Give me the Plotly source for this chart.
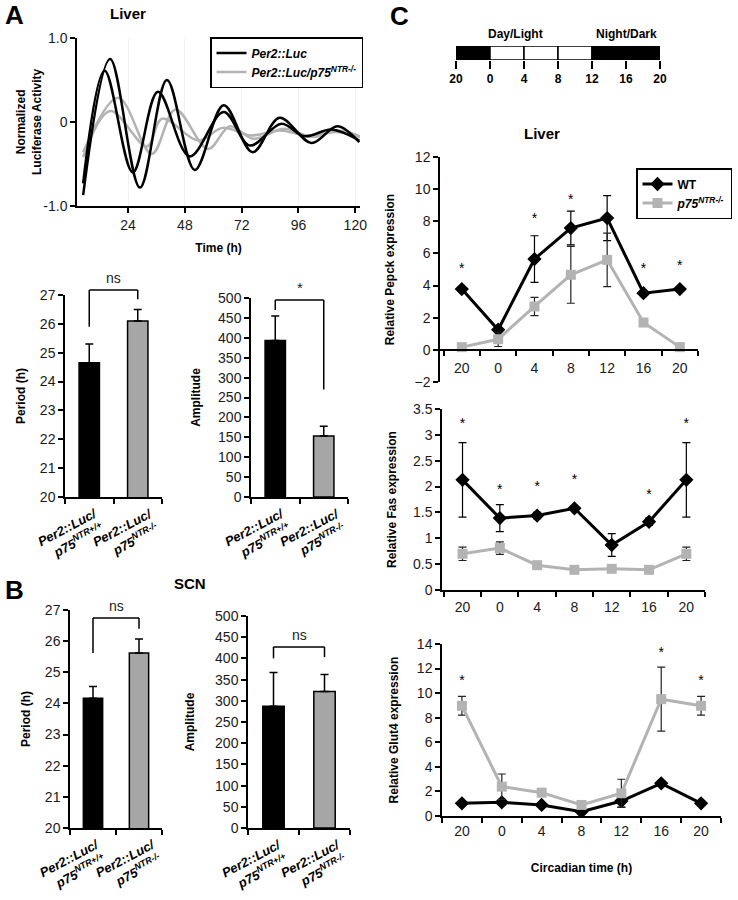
import plotly.graph_objects as go

W, H = 738, 900
FONT = "Arial, Liberation Sans, sans-serif"
BLACK = "#000000"
GREY_LINE = "#b3b3b3"
GREY_BAR = "#a6a6a6"

# ---------------- data ----------------
# A: luciferase traces (peaks / troughs: time h, normalized activity)
luc_wt1_t = [5, 16.4, 29, 40.4, 52.2, 64.4, 76.6, 88, 101.5, 112.4, 121.7]
luc_wt1_v = [-0.87, 0.75, -0.78, 0.5, -0.57, 0.2, -0.36, 0.05, -0.25, -0.05, -0.24]
luc_wt2_t = [5, 14.1, 26, 36.6, 50, 64.4, 75.4, 88.8, 98.5, 110, 121.7]
luc_wt2_v = [-0.73, 0.61, -0.6, 0.36, -0.41, 0.12, -0.28, -0.02, -0.17, -0.09, -0.22]
luc_ko1_t = [5, 19.8, 34, 44, 57.8, 67, 77, 90, 102, 113, 122]
luc_ko1_v = [-0.36, 0.29, -0.38, 0.15, -0.32, -0.05, -0.2, -0.08, -0.18, -0.1, -0.17]
luc_ko2_t = [5, 16.4, 32, 38.4, 53.6, 64, 76, 88, 100, 112, 122]
luc_ko2_v = [-0.42, 0.13, -0.29, 0.04, -0.22, -0.07, -0.16, -0.1, -0.16, -0.12, -0.18]
luc_ticks = [24, 48, 72, 96, 120]

# A / B: period and amplitude bars (wild type, knockout)
bar_labels = ["Per2::Luc/<br>p75<sup>NTR+/+</sup>", "Per2::Luc/<br>p75<sup>NTR-/-</sup>"]
liver_period = [24.65, 26.1]
liver_period_err = [0.65, 0.4]
liver_amp = [393, 153]
liver_amp_err = [62, 25]
scn_period = [24.17, 25.62]
scn_period_err = [0.37, 0.45]
scn_amp = [287, 322]
scn_amp_err = [80, 40]

# significance brackets: top, left leg end, right leg end, label
liver_period_sig = [27.17, 25.9, 26.85, "ns"]
liver_amp_sig = [495, 470, 270, "*"]
scn_period_sig = [26.74, 25.62, 26.4, "ns"]
scn_amp_sig = [427, 400, 403, "ns"]

# C: light / dark schedule
lb_ticks = [-4, 0, 4, 8, 12, 16, 20]
lb_labels = ["20", "0", "4", "8", "12", "16", "20"]
lb_phase = ["dark", "light", "light", "light", "dark", "dark"]

# C: liver expression over circadian time
ct_labels = ["20", "0", "4", "8", "12", "16", "20"]

pepck_wt = [3.78, 1.25, 5.65, 7.58, 8.2, 3.53, 3.78]
pepck_wt_err = [0.1, 0.12, 1.45, 1.05, 1.4, 0.12, 0.1]
pepck_ko = [0.17, 0.66, 2.7, 4.67, 5.6, 1.7, 0.17]
pepck_ko_err = [0.05, 0.45, 0.57, 1.77, 1.66, 0.1, 0.05]
pepck_star_x = [0, 2, 3, 5, 6]
pepck_star_y = [5.0, 8.1, 9.3, 5.0, 5.2]

fas_wt = [2.13, 1.39, 1.44, 1.58, 0.87, 1.32, 2.13]
fas_wt_err = [0.72, 0.26, 0.06, 0.03, 0.22, 0.07, 0.72]
fas_ko = [0.70, 0.81, 0.48, 0.39, 0.41, 0.39, 0.70]
fas_ko_err = [0.13, 0.12, 0.02, 0.02, 0.02, 0.02, 0.13]
fas_star_x = [0, 1, 2, 3, 5, 6]
fas_star_y = [3.2, 1.92, 1.99, 2.11, 1.83, 3.2]

glut4_wt = [1.03, 1.11, 0.9, 0.35, 1.22, 2.66, 1.03]
glut4_wt_err = [0.1, 0.15, 0.1, 0.1, 0.5, 0.2, 0.1]
glut4_ko = [8.97, 2.39, 1.9, 0.9, 1.85, 9.51, 8.97]
glut4_ko_err = [0.76, 1.03, 0.2, 0.1, 1.14, 2.6, 0.76]
glut4_star_x = [0, 5, 6]
glut4_star_y = [10.95, 13.26, 10.95]

# ---------------- helpers ----------------
def xd(a, b):
    return [a / W, b / W]


def yd(top, bottom):
    return [1 - bottom / H, 1 - top / H]


def tfont(size=12, **kw):
    f = dict(family=FONT, size=size, color=BLACK)
    f.update(kw)
    return f


def axis(**kw):
    base = dict(showline=True, linecolor=BLACK, linewidth=1.5, ticks="outside",
                ticklen=5, tickwidth=1.5, tickcolor=BLACK, showgrid=False,
                zeroline=False, tickfont=dict(family=FONT, size=14, color="#1a1a1a"))
    base.update(kw)
    return base


def ytitle(text, standoff=8):
    return dict(text=text, font=tfont(12, weight="bold"), standoff=standoff)


fig = go.Figure()
shapes = []
annotations = []
layout_axes = {}

# ---------------- A: luciferase ----------------
for t, v, col, name, show, rank in [
    (luc_ko1_t, luc_ko1_v, GREY_LINE, "<i>Per2::Luc/p75<sup>NTR-/-</sup></i>", True, 2),
    (luc_ko2_t, luc_ko2_v, GREY_LINE, "<i>Per2::Luc/p75<sup>NTR-/-</sup></i>", False, 2),
    (luc_wt1_t, luc_wt1_v, BLACK, "<i>Per2::Luc</i>", True, 1),
    (luc_wt2_t, luc_wt2_v, BLACK, "<i>Per2::Luc</i>", False, 1),
]:
    fig.add_trace(go.Scatter(
        x=t, y=v, mode="lines", xaxis="x", yaxis="y",
        line=dict(color=col, width=2.5, shape="spline", smoothing=1.0),
        name=name, legendgroup=name, showlegend=show, legendrank=rank, legend="legend"
    ))

layout_axes["xaxis"] = axis(domain=xd(77, 360), range=[2.4, 122], tickvals=luc_ticks,
                            showgrid=True, gridcolor="#f2f2f2", anchor="y",
                            title=dict(text="Time (h)", font=tfont(12, weight="bold"), standoff=12))
layout_axes["yaxis"] = axis(domain=yd(38, 206), range=[-1, 1], tickvals=[-1, 0, 1],
                            ticktext=["-1.0", "0", "1.0"], anchor="x")
annotations.append(dict(xref="paper", yref="paper", x=29 / W, y=1 - 122 / H,
                        xanchor="center", yanchor="middle", textangle=-90, showarrow=False,
                        text="<b>Normalized<br>Luciferase Activity</b>", font=tfont(12)))


# ---------------- A / B: bars ----------------
def bar_panel(n, values, errors, yrange, dtick, title, sig, dom_x, dom_y, label_shift, standoff):
    xa, ya = f"x{n}", f"y{n}"
    fig.add_trace(go.Bar(
        x=[0, 1], y=values, xaxis=xa, yaxis=ya, width=0.42, showlegend=False,
        marker=dict(color=[BLACK, GREY_BAR], line=dict(color=BLACK, width=1.5)),
        error_y=dict(type="data", array=errors, arrayminus=[0, 0], symmetric=False,
                     color=BLACK, thickness=1.5, width=4)
    ))
    layout_axes[f"xaxis{n}"] = axis(domain=xd(*dom_x), range=[-0.5, 1.5],
                                    tickvals=[-0.5, 0.5, 1.5], showticklabels=False, anchor=ya)
    layout_axes[f"yaxis{n}"] = axis(domain=yd(*dom_y), range=yrange, dtick=dtick, anchor=xa,
                                    title=ytitle(title, standoff))
    lo, hi = yrange
    f = lambda v: (v - lo) / (hi - lo)
    top, left, right, label = sig
    for x0, y0, x1, y1 in [(0.25, f(left), 0.25, f(top)), (0.25, f(top), 0.75, f(top)),
                           (0.75, f(top), 0.75, f(right))]:
        shapes.append(dict(type="line", xref=f"{xa} domain", yref=f"{ya} domain",
                           x0=x0, y0=y0, x1=x1, y1=y1, line=dict(color=BLACK, width=1.5)))
    annotations.append(dict(xref=f"{xa} domain", yref=f"{ya} domain", x=0.5, y=f(top),
                            yanchor="bottom", yshift=2, text=label, showarrow=False,
                            font=tfont(15 if label == "*" else 14, color="#222")))
    for i, lab in enumerate(bar_labels):
        annotations.append(dict(xref=xa, yref=f"{ya} domain", x=i, y=0,
                                xshift=label_shift[i], yshift=-38, xanchor="center",
                                yanchor="middle", textangle=-28, align="right",
                                text=f"<b><i>{lab}</i></b>", showarrow=False, font=tfont(13)))


bar_panel(2, liver_period, liver_period_err, [20, 27], 1, "Period (h)", liver_period_sig,
          (65, 162), (295, 497), (-18, -11), 12)
bar_panel(3, liver_amp, liver_amp_err, [0, 500], 50, "Amplitude", liver_amp_sig,
          (251, 348), (298, 497), (-17, -10), 15)
bar_panel(4, scn_period, scn_period_err, [20, 27], 1, "Period (h)", scn_period_sig,
          (70, 162), (610, 828), (-20, -10), 12)
bar_panel(5, scn_amp, scn_amp_err, [0, 500], 50, "Amplitude", scn_amp_sig,
          (248, 350), (616, 828), (-18, -10), 18)

# ---------------- C: light / dark bar ----------------
phase_colors = {"dark": BLACK, "light": "white"}
fig.add_trace(go.Bar(
    orientation="h", y=[0.5] * len(lb_phase), base=lb_ticks[:-1],
    x=[lb_ticks[i + 1] - lb_ticks[i] for i in range(len(lb_phase))], width=1,
    marker=dict(color=[phase_colors[p] for p in lb_phase], line=dict(color=BLACK, width=1.5)),
    xaxis="x6", yaxis="y6", showlegend=False
))
layout_axes["xaxis6"] = axis(domain=xd(456, 660), range=[-4, 20], tickvals=lb_ticks,
                             ticktext=lb_labels, showline=False, ticklen=8, anchor="y6",
                             tickfont=tfont(12, weight="bold"))
layout_axes["yaxis6"] = dict(domain=yd(46, 60), range=[0, 1], visible=False, anchor="x6")
for x, txt in [(3, "Day/Light"), (16, "Night/Dark")]:
    annotations.append(dict(xref="x6", yref="y6 domain", x=x, y=1, yanchor="bottom", yshift=3,
                            text=f"<b>{txt}</b>", showarrow=False, font=tfont(12)))


# ---------------- C: expression panels ----------------
def expr_panel(n, wt, wt_err, ko, ko_err, star_x, star_y, yrange, dtick, title,
               dom_x, dom_y, xrange, standoff, label_gap, show_legend=False, xtitle=None):
    xa, ya = f"x{n}", f"y{n}"
    idx = list(range(len(ct_labels)))
    fig.add_trace(go.Scatter(
        x=idx, y=wt, xaxis=xa, yaxis=ya, mode="lines+markers", name="<b>WT</b>",
        line=dict(color=BLACK, width=3), marker=dict(symbol="diamond", size=11, color=BLACK),
        error_y=dict(type="data", array=wt_err, color=BLACK, thickness=1.2, width=4),
        legend="legend2", showlegend=show_legend
    ))
    fig.add_trace(go.Scatter(
        x=idx, y=ko, xaxis=xa, yaxis=ya, mode="lines+markers",
        name="<b><i>p75<sup>NTR-/-</sup></i></b>",
        line=dict(color=GREY_LINE, width=3), marker=dict(symbol="square", size=10, color=GREY_LINE),
        error_y=dict(type="data", array=ko_err, color="#222", thickness=1.2, width=4),
        legend="legend2", showlegend=show_legend
    ))
    fig.add_trace(go.Scatter(
        x=star_x, y=star_y, xaxis=xa, yaxis=ya, mode="text", text=["*"] * len(star_x),
        textfont=tfont(14), showlegend=False
    ))
    lo, hi = yrange
    d0, d1 = yd(*dom_y)
    xpos = d0 + (0 - lo) / (hi - lo) * (d1 - d0)
    xaxis = axis(domain=xd(*dom_x), range=xrange, tickmode="array", tickvals=idx,
                 ticktext=ct_labels, ticklen=0, ticklabelstandoff=label_gap,
                 minor=dict(tickmode="linear", tick0=-0.5, dtick=1, ticks="outside",
                            ticklen=5, tickwidth=1.5, tickcolor=BLACK))
    if lo < 0:
        xaxis.update(anchor="free", position=xpos)
    else:
        xaxis.update(anchor=ya)
    if xtitle:
        xaxis["title"] = dict(text=xtitle, font=tfont(12, weight="bold"), standoff=26)
    layout_axes[f"xaxis{n}"] = xaxis
    layout_axes[f"yaxis{n}"] = axis(domain=[d0, d1], range=yrange, dtick=dtick, anchor=xa,
                                    title=ytitle(title, standoff))


expr_panel(7, pepck_wt, pepck_wt_err, pepck_ko, pepck_ko_err, pepck_star_x, pepck_star_y,
           [-2, 12], 2, "Relative Pepck expression", (440, 698), (157, 382), [-0.6, 6.5], 17, 6,
           show_legend=True)
expr_panel(8, fas_wt, fas_wt_err, fas_ko, fas_ko_err, fas_star_x, fas_star_y,
           [0, 3.5], 0.5, "Relative Fas expression", (442, 705), (409, 590), [-0.55, 6.5], 14, 3)
expr_panel(9, glut4_wt, glut4_wt_err, glut4_ko, glut4_ko_err, glut4_star_x, glut4_star_y,
           [0, 14], 2, "Relative Glut4 expression", (442, 721), (644, 816), [-0.5, 6.5], 16, 1,
           xtitle="Circadian time (h)")

# ---------------- titles and panel letters ----------------
for x, y, txt, size in [(14, 15, "A", 26), (14, 590, "B", 26), (400, 16, "C", 26),
                        (128, 13, "Liver", 15), (190, 583, "SCN", 15), (542, 133, "Liver", 15)]:
    annotations.append(dict(xref="paper", yref="paper", x=x / W, y=1 - y / H,
                            xanchor="center", yanchor="middle", text=f"<b>{txt}</b>",
                            showarrow=False, font=tfont(size)))

fig.update_layout(
    width=W, height=H,
    margin=dict(l=0, r=0, t=0, b=0, autoexpand=False),
    paper_bgcolor="white", plot_bgcolor="white",
    font=dict(family=FONT, color=BLACK),
    barmode="overlay",
    shapes=shapes, annotations=annotations,
    legend=dict(x=363 / W, y=1 - 37 / H, xanchor="right", yanchor="top",
                bordercolor=BLACK, borderwidth=1.5, bgcolor="white",
                font=tfont(12, weight="bold"), itemwidth=30, tracegroupgap=0),
    legend2=dict(x=732 / W, y=1 - 168 / H, xanchor="right", yanchor="top",
                 bordercolor=BLACK, borderwidth=1.5, bgcolor="white",
                 font=tfont(12), itemwidth=30, tracegroupgap=0),
    **layout_axes
)

fig.write_html("out.html", config={"displayModeBar": False},
               post_script="document.body.style.margin = '0';")
